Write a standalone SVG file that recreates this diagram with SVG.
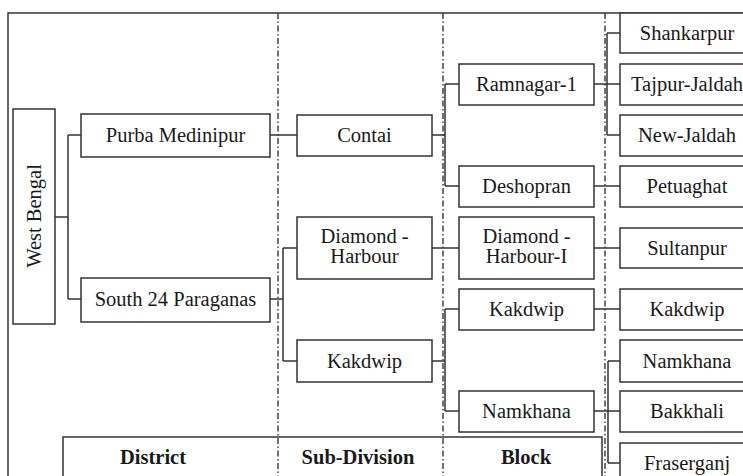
<svg xmlns="http://www.w3.org/2000/svg" width="743" height="476" viewBox="0 0 743 476">
<style>
.box{fill:#fff;stroke:#333;stroke-width:1.5}
.t{font-size:20.5px;fill:#1a1a1a;text-anchor:middle}
.b{font-weight:bold}
.dash{stroke:#444;stroke-width:1.5;stroke-dasharray:6 2.5 1.5 2.5;fill:none}
.c{stroke:#333;stroke-width:1.5;fill:none}
</style>
<rect width="743" height="476" fill="#fff"/>
<g id="frame">
<path class="c" d="M8,476 V13 H743"/>
</g>
<g id="dividers">
<line class="dash" x1="278" y1="13" x2="278" y2="476"/>
<line class="dash" x1="443" y1="13" x2="443" y2="476"/>
<line class="dash" x1="605" y1="13" x2="605" y2="476"/>
</g>
<g id="connectors">
<path class="c" d="M55,217 H68 M68,135 V299 M68,135 H81 M68,299 H81"/>
<path class="c" d="M270,135 H297"/>
<path class="c" d="M270,299 H283 M283,248 V361 M283,248 H297 M283,361 H297"/>
<path class="c" d="M432,135 H445 M445,84 V186 M445,84 H459 M445,186 H459"/>
<path class="c" d="M432,248 H459"/>
<path class="c" d="M432,361 H445 M445,309 V411 M445,309 H459 M445,411 H459"/>
<path class="c" d="M594,84 H607 M607,33 V135 M607,33 H620 M607,84 H620 M607,135 H620"/>
<path class="c" d="M594,186 H620"/>
<path class="c" d="M594,248 H620"/>
<path class="c" d="M594,309 H620"/>
<path class="c" d="M594,411 H608 M608,361 V463 M608,361 H620 M608,411 H620 M608,463 H620"/>
</g>
<g font-family="Liberation Serif, Tinos, Times New Roman, serif">
<g id="n-westbengal"><rect class="box" x="13" y="109" width="42" height="215"/><text class="t" transform="translate(34,216) rotate(-90)" y="7">West Bengal</text></g>
<g id="n-purba"><rect class="box" x="81" y="114" width="189" height="43"/><text class="t" x="175.5" y="142">Purba Medinipur</text></g>
<g id="n-south24"><rect class="box" x="81" y="278" width="189" height="44"/><text class="t" x="175.5" y="306">South 24 Paraganas</text></g>
<g id="n-contai"><rect class="box" x="297" y="115" width="135" height="41"/><text class="t" x="364.5" y="142">Contai</text></g>
<g id="n-diamond"><rect class="box" x="297" y="217" width="135" height="62"/><text class="t" x="364.5" y="243">Diamond -</text><text class="t" x="364.5" y="263">Harbour</text></g>
<g id="n-kakdwip-sd"><rect class="box" x="297" y="340" width="135" height="42"/><text class="t" x="364.5" y="368">Kakdwip</text></g>
<g id="n-ramnagar"><rect class="box" x="459" y="64" width="135" height="41"/><text class="t" x="526.5" y="91">Ramnagar-1</text></g>
<g id="n-deshopran"><rect class="box" x="459" y="166" width="135" height="41"/><text class="t" x="526.5" y="193">Deshopran</text></g>
<g id="n-diamond-i"><rect class="box" x="459" y="217" width="135" height="62"/><text class="t" x="526.5" y="243">Diamond -</text><text class="t" x="526.5" y="263">Harbour-I</text></g>
<g id="n-kakdwip-b"><rect class="box" x="459" y="289" width="135" height="41"/><text class="t" x="526.5" y="316">Kakdwip</text></g>
<g id="n-namkhana-b"><rect class="box" x="459" y="391" width="135" height="41"/><text class="t" x="526.5" y="418">Namkhana</text></g>
<g id="n-shankarpur"><rect class="box" x="620" y="13" width="135" height="40"/><text class="t" x="687" y="40">Shankarpur</text></g>
<g id="n-tajpur"><rect class="box" x="620" y="64" width="135" height="41"/><text class="t" x="687" y="91">Tajpur-Jaldah</text></g>
<g id="n-newjaldah"><rect class="box" x="620" y="115" width="135" height="41"/><text class="t" x="687" y="142">New-Jaldah</text></g>
<g id="n-petuaghat"><rect class="box" x="620" y="166" width="135" height="41"/><text class="t" x="687" y="193">Petuaghat</text></g>
<g id="n-sultanpur"><rect class="box" x="620" y="228" width="135" height="40"/><text class="t" x="687" y="255">Sultanpur</text></g>
<g id="n-kakdwip-v"><rect class="box" x="620" y="289" width="135" height="41"/><text class="t" x="687" y="316">Kakdwip</text></g>
<g id="n-namkhana-v"><rect class="box" x="620" y="340" width="135" height="42"/><text class="t" x="687" y="368">Namkhana</text></g>
<g id="n-bakkhali"><rect class="box" x="620" y="391" width="135" height="41"/><text class="t" x="687" y="418">Bakkhali</text></g>
<g id="n-fraserganj"><rect class="box" x="620" y="443" width="135" height="45"/><text class="t" x="687" y="470">Fraserganj</text></g>
<g id="legend">
<path class="c" d="M63,480 V437 H602 V480"/>
<text class="t b" x="153" y="464">District</text>
<text class="t b" x="358" y="464">Sub-Division</text>
<text class="t b" x="526" y="464">Block</text>
</g>
</g>
</svg>
